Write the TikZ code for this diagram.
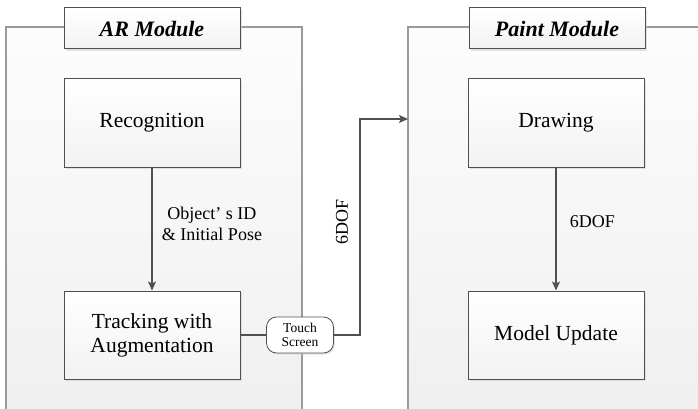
\documentclass[tikz,border=0pt]{standalone}
\usepackage{fontspec}
\setmainfont{Liberation Serif}
\usetikzlibrary{arrows.meta,shadows}
\definecolor{linegray}{HTML}{505050}
\definecolor{panelgray}{HTML}{9A9A9A}
\tikzset{
  block/.style={draw=linegray, line width=1pt, top color=white, bottom color=gray!10,
    minimum width=176pt, minimum height=88pt, align=center, font=\fontsize{21.5}{24}\selectfont,
    drop shadow={shadow xshift=2pt, shadow yshift=-2pt, fill=gray!35, opacity=0.6}},
  title/.style={block, minimum height=41pt, font=\fontsize{22}{24}\selectfont\bfseries\itshape},
  touch/.style={draw=linegray, line width=0.8pt, fill=white, rounded corners=10pt,
    minimum width=67pt, minimum height=36pt, inner sep=1pt, align=center,
    font=\fontsize{13.5}{14}\selectfont,
    drop shadow={shadow xshift=1.5pt, shadow yshift=-1.5pt, fill=gray!35, opacity=0.6}},
  flow/.style={draw=linegray, line width=1.3pt, -{Stealth[length=9pt, width=8pt, inset=2pt]}},
  wire/.style={draw=linegray, line width=1.3pt},
  lbl/.style={font=\fontsize{18}{21}\selectfont, align=center}
}
\begin{document}
\begin{tikzpicture}[x=1pt, y=-1pt]
  \useasboundingbox (0,0) rectangle (698,409);
  \shade[top color=gray!2, bottom color=gray!12] (6,27) rectangle (302,409);
  \shade[top color=gray!2, bottom color=gray!12] (408,27) rectangle (698,409);
  \draw[panelgray, line width=1.2pt] (6,409) -- (6,27) -- (302,27) -- (302,409);
  \draw[panelgray, line width=1.2pt] (408,409) -- (408,27) -- (698,27);
  \draw
    (152,28.5) node[title] (ar) {AR Module}
    (557,28.5) node[title] (paint) {Paint Module}
    (152,123) node[block] (rec) {Recognition}
    (152,335) node[block] (trk) {Tracking with\\Augmentation}
    (556,123) node[block] (drw) {Drawing}
    (556,335) node[block] (upd) {Model Update}
    (300,335) node[touch] (touch) {Touch\\Screen};
  \coordinate (pin) at (408,119);
  \begin{scope}
    \draw[flow] (rec) -- node[lbl, pos=0.46, right=6pt] (idpose) {Object' s ID\\\& Initial Pose} (trk);
    \draw[wire] (trk) -- (touch);
    \draw[flow] (touch.east) -- (360,335) |- (pin);
    \draw[flow] (drw) -- node[lbl, pos=0.44, right=10pt] (dof) {6DOF} (upd);
  \end{scope}
  \node[lbl, rotate=90] (pose) at (342,222) {6DOF};
\end{tikzpicture}
\end{document}
